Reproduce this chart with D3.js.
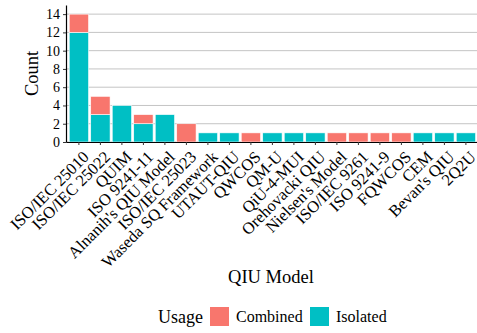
<!DOCTYPE html>
<html>
<head>
<meta charset="utf-8">
<script src="https://cdn.jsdelivr.net/npm/d3@7"></script>
<style>
  body { margin: 0; background: #fff; }
  svg text { font-family: "Liberation Serif", "DejaVu Serif", serif; fill: #000; }
</style>
</head>
<body>
<div class="chart"></div>
<script>
var models = ["ISO/IEC 25010", "ISO/IEC 25022", "QUIM", "ISO 9241-11", "Alnanih's QIU Model",
    "ISO/IEC 25023", "Waseda SQ Framework", "UTAUT-QIU", "QWCOS", "QM-U", "QiU-4-MUI",
    "Orehovacki QIU", "Nielsen's Model", "ISO/IEC 9261", "ISO 9241-9", "FQWCOS", "CEM",
    "Bevan's QIU", "2Q2U"];
var isolated = [12, 3, 4, 2, 3, 0, 1, 1, 0, 1, 1, 1, 0, 0, 0, 0, 1, 1, 1];
var combined = [2, 2, 0, 1, 0, 2, 0, 0, 1, 0, 0, 0, 1, 1, 1, 1, 0, 0, 0];
var usageKeys = ["Combined", "Isolated"];
var usageColors = ["#F8766D", "#00BFC4"];
var yTicks = [0, 2, 4, 6, 8, 10, 12, 14];

function init() {
    var w = 477, h = 333;
    var left = 66, right = 478.8, top = 5, bottom = 142;
    var serif = '"Liberation Serif", "DejaVu Serif", serif';

    var svg = d3.select(".chart").append("svg")
        .attr("width", w)
        .attr("height", h);

    var x = d3.scaleBand()
        .domain(models)
        .range([left, right])
        .paddingInner(0.1)
        .paddingOuter(0.15);

    var y = d3.scaleLinear()
        .domain([0, 15])
        .range([bottom, top]);

    var color = d3.scaleOrdinal().domain(usageKeys).range(usageColors);

    // horizontal grid
    svg.append("g")
        .selectAll("line")
        .data(yTicks)
        .enter().append("line")
        .attr("x1", left)
        .attr("x2", w)
        .attr("y1", function(d) { return y(d); })
        .attr("y2", function(d) { return y(d); })
        .attr("stroke", "#c4c4c4")
        .attr("stroke-width", 1);

    // stacked bars: isolated at the bottom, combined on top
    var rows = models.map(function(m, i) {
        return { model: m, Isolated: isolated[i], Combined: combined[i] };
    });
    var stack = d3.stack().keys(["Isolated", "Combined"])(rows);

    svg.append("g")
        .selectAll("g")
        .data(stack)
        .enter().append("g")
        .attr("fill", function(d) { return color(d.key); })
        .selectAll("rect")
        .data(function(d) { return d.filter(function(s) { return s[1] > s[0]; }); })
        .enter().append("rect")
        .attr("x", function(d) { return x(d.data.model); })
        .attr("width", x.bandwidth())
        .attr("y", function(d) { return y(d[1]); })
        .attr("height", function(d) { return y(d[0]) - y(d[1]); })
        .attr("stroke", "#fff")
        .attr("stroke-width", 0.6);

    // axes
    var xAxis = svg.append("g")
        .attr("transform", "translate(0," + bottom + ")")
        .call(d3.axisBottom(x).tickSize(3).tickSizeOuter(0));
    xAxis.select(".domain").attr("stroke", "#000").attr("stroke-width", 1.2);
    xAxis.selectAll(".tick line").attr("stroke", "#333");
    xAxis.selectAll(".tick text")
        .style("font-family", serif)
        .style("font-size", "16.5px")
        .attr("fill", "#000")
        .attr("text-anchor", "end")
        .attr("x", 0)
        .attr("y", 0)
        .attr("dy", "0.68em")
        .attr("transform", "translate(3,8) rotate(-45)");

    var yAxis = svg.append("g")
        .attr("transform", "translate(" + left + ",0)")
        .call(d3.axisLeft(y).tickValues(yTicks).tickSize(3).tickSizeOuter(0));
    yAxis.select(".domain").attr("stroke", "#000").attr("stroke-width", 1.2);
    yAxis.selectAll(".tick line").attr("stroke", "#333");
    yAxis.selectAll(".tick text")
        .style("font-family", serif)
        .style("font-size", "14px")
        .attr("fill", "#000");

    // axis titles
    svg.append("text")
        .attr("transform", "translate(38," + ((top + bottom) / 2) + ") rotate(-90)")
        .attr("text-anchor", "middle")
        .style("font-size", "18.5px")
        .text("Count");

    svg.append("text")
        .attr("x", 271)
        .attr("y", 283)
        .attr("text-anchor", "middle")
        .style("font-size", "18.5px")
        .text("QIU Model");

    // legend
    var legend = svg.append("g").attr("transform", "translate(0,323)");
    legend.append("text")
        .attr("x", 158)
        .attr("y", 0)
        .style("font-size", "18px")
        .text("Usage");
    var keyX = [210, 310];
    usageKeys.forEach(function(k, i) {
        legend.append("rect")
            .attr("x", keyX[i])
            .attr("y", -16)
            .attr("width", 19)
            .attr("height", 19)
            .attr("fill", color(k));
        legend.append("text")
            .attr("x", keyX[i] + 26)
            .attr("y", -1)
            .style("font-size", "16px")
            .text(k);
    });
}

window.onload = init;
</script>
</body>
</html>
